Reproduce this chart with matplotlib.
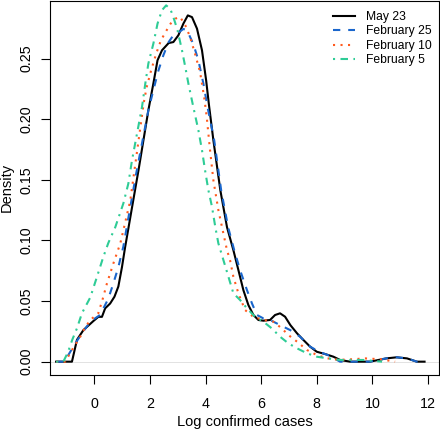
import matplotlib
matplotlib.use("Agg")
import matplotlib.pyplot as plt

plt.rcParams['font.family'] = ['Liberation Sans', 'DejaVu Sans']

# density curves (x = log confirmed cases, y = density)
may23_x = [-1.38, -0.81, -0.63, -0.40, -0.04, 0.14, 0.27, 0.385, 0.565, 0.72, 0.86, 0.99, 1.10,
           1.35, 1.6, 1.94, 2.12, 2.27, 2.43, 2.67, 2.84, 3.02, 3.20, 3.36, 3.51, 3.69, 3.87, 4.02,
           4.12, 4.28, 4.53, 4.77, 5.0, 5.18, 5.36, 5.54, 5.72, 5.90, 6.08, 6.32, 6.50, 6.68, 6.86,
           7.05, 7.29, 7.52, 7.76, 8.0, 8.30, 8.6, 8.84, 9.2, 9.92, 10.5, 10.88, 11.25, 11.6, 11.88]
may23_y = [0, 0, 0.018, 0.026, 0.0335, 0.037, 0.037, 0.044, 0.048, 0.0536, 0.062, 0.078, 0.094,
           0.127, 0.160, 0.2074, 0.2295, 0.2487, 0.2569, 0.2629, 0.2637, 0.2693, 0.2789, 0.2857,
           0.2843, 0.2748, 0.2569, 0.232, 0.212, 0.1827, 0.1415, 0.111, 0.092, 0.0756, 0.059,
           0.0467, 0.0385, 0.0344, 0.0338, 0.0344, 0.0385, 0.0399, 0.0371, 0.0302, 0.0234, 0.0179,
           0.0124, 0.0082, 0.0063, 0.0041, 0.0014, 0, 0, 0.0027, 0.0036, 0.0027, 0, 0]

feb25_x = [-1.38, -1.05, -0.94, -0.69, -0.45, -0.15, 0.2, 0.5, 0.68, 0.86, 1.04, 1.5, 1.94, 2.12,
           2.30, 2.48, 2.67, 2.84, 3.02, 3.20, 3.33, 3.44, 3.56, 3.74, 3.92, 4.07, 4.31, 4.56, 4.81,
           5.03, 5.24, 5.49, 5.67, 5.85, 6.08, 6.32, 6.68, 7.05, 7.4, 7.76, 8.1, 8.45, 8.84, 9.92,
           10.5, 10.88, 11.25, 11.6, 11.88]
feb25_y = [0, 0, 0.0055, 0.015, 0.0234, 0.033, 0.0385, 0.052, 0.0646, 0.078, 0.095, 0.155, 0.2074,
           0.224, 0.240, 0.2528, 0.2637, 0.2693, 0.2715, 0.2745, 0.2735, 0.268, 0.262, 0.2487,
           0.2295, 0.21, 0.1827, 0.1415, 0.111, 0.092, 0.0756, 0.059, 0.048, 0.0385, 0.0357,
           0.0344, 0.0302, 0.026, 0.0206, 0.0124, 0.008, 0.005, 0.0, 0.0, 0.0027, 0.0036, 0.0027,
           0, 0]

feb10_x = [-1.38, -1.05, -0.8, -0.51, -0.33, -0.15, 0.14, 0.3, 0.45, 0.68, 0.93, 1.29, 1.77, 1.88,
           2.04, 2.22, 2.39, 2.56, 2.74, 2.91, 3.08, 3.27, 3.44, 3.62, 3.80, 3.95, 4.04, 4.16, 4.28,
           4.46, 4.64, 4.77, 4.88, 5.0, 5.18, 5.42, 5.72, 6.08, 6.44, 6.74, 6.98, 7.29, 7.65, 8.0,
           8.37, 8.8, 9.3, 9.75, 10.3, 10.82]
feb10_y = [0, 0, 0.010, 0.0206, 0.0284, 0.0344, 0.040, 0.052, 0.0646, 0.081, 0.0976, 0.133, 0.213,
           0.2266, 0.2404, 0.254, 0.265, 0.272, 0.2789, 0.283, 0.2845, 0.2775, 0.268, 0.254, 0.239,
           0.218, 0.202, 0.1745, 0.1497, 0.125, 0.1058, 0.092, 0.0838, 0.070, 0.0564, 0.0426,
           0.037, 0.0344, 0.033, 0.0275, 0.022, 0.0165, 0.0096, 0.0055, 0.0028, 0.0015, 0.002,
           0.0027, 0.002, 0]

feb5_x = [-1.38, -1.12, -0.95, -0.8, -0.63, -0.45, -0.15, 0.09, 0.32, 0.5, 0.75, 1.04, 1.22, 1.35,
          1.53, 1.71, 1.83, 1.94, 2.12, 2.27, 2.43, 2.58, 2.73, 2.84, 2.99, 3.15, 3.27, 3.38, 3.55,
          3.74, 3.87, 3.98, 4.1, 4.23, 4.35, 4.46, 4.77, 5.0, 5.24, 5.49, 5.78, 6.08, 6.38, 6.68,
          6.98, 7.29, 7.65, 8.0, 8.37, 8.84, 9.68, 10.35]
feb5_y = [0, 0, 0.008, 0.018, 0.0275, 0.040, 0.053, 0.070, 0.0865, 0.098, 0.111, 0.1306, 0.147,
          0.166, 0.188, 0.21, 0.2295, 0.246, 0.2624, 0.2789, 0.29, 0.294, 0.291, 0.2843, 0.2734,
          0.2569, 0.243, 0.2295, 0.211, 0.191, 0.1745, 0.158, 0.1415, 0.1278, 0.111, 0.0976,
          0.074, 0.0564, 0.0509, 0.044, 0.037, 0.033, 0.0275, 0.0206, 0.0151, 0.011, 0.0069,
          0.0041, 0.0028, 0.0014, 0.0014, 0]

x_ticks = [0, 2, 4, 6, 8, 10, 12]
y_ticks = [0.00, 0.05, 0.10, 0.15, 0.20, 0.25]

fig = plt.figure(figsize=(4.40, 4.29), dpi=100)
ax = fig.add_axes([50 / 440, 54 / 429, 389 / 440, 374.5 / 429])

ax.axhline(0, color='#cccccc', lw=0.4, zorder=0)
ax.plot(may23_x, may23_y, color='black', lw=1.5, label='May 23')
ax.plot(feb25_x, feb25_y, color='#1a66cc', lw=1.5, ls=(0, (3.5, 3.8)), label='February 25')
ax.plot(feb10_x, feb10_y, color='#ff5a1e', lw=1.5, ls=(0, (1, 2.6)), label='February 10')
ax.plot(feb5_x, feb5_y, color='#2ecc96', lw=1.5, ls=(0, (1, 2.6, 3.6, 2.6)), label='February 5')

ax.set_xlim(-1.6, 12.4)
ax.set_ylim(-0.011, 0.298)
ax.set_xticks(x_ticks)
ax.set_yticks(y_ticks)
ax.set_yticklabels([f"{v:.2f}" for v in y_ticks])
ax.tick_params(axis='both', direction='out', length=6.5, width=0.8, labelsize=10.3)
ax.tick_params(axis='x', pad=9)
ax.tick_params(axis='y', pad=5.5)
for lab in ax.get_yticklabels():
    lab.set_rotation(90)
    lab.set_va('center')
for sp in ax.spines.values():
    sp.set_linewidth(0.8)

ax.set_xlabel("Log confirmed cases", fontsize=10.5)
ax.set_ylabel("Density", fontsize=10.5)
ax.xaxis.set_label_coords(0.5, -0.107)
ax.yaxis.set_label_coords(-0.094, 0.5)
ax.xaxis.label.set_va('top')

ax.legend(loc='upper left', bbox_to_anchor=(0.7275, 0.972), frameon=False, fontsize=8.7,
          handlelength=1.8, handletextpad=0.95, labelspacing=0.2, borderpad=0, borderaxespad=0)

fig.savefig("out.png", dpi=100)
